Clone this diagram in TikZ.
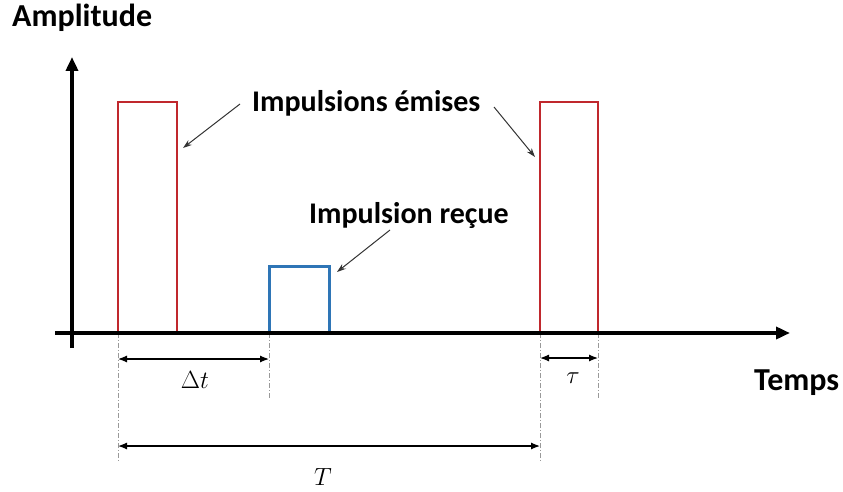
\documentclass[tikz,border=0pt]{standalone}
\usepackage{fontspec}
\setmainfont{Carlito}
\usetikzlibrary{arrows.meta}
\definecolor{pred}{HTML}{C0282D}
\definecolor{pblue}{HTML}{2E75B6}
\definecolor{annot}{HTML}{333333}
\begin{document}
\begin{tikzpicture}[x=1pt,y=-1pt,
  lbl/.style={font=\bfseries\fontsize{30}{34}\selectfont, inner sep=0pt, anchor=base west},
  biglbl/.style={lbl, font=\bfseries\fontsize{32}{36}\selectfont},
  mlbl/.style={font=\fontsize{24}{28}\selectfont, inner sep=0pt},
  axisline/.style={line width=4pt, -{Triangle[length=14pt,width=12pt]}},
  redpulse/.style={draw=pred, line width=2pt},
  bluepulse/.style={draw=pblue, line width=3pt},
  guide/.style={draw=gray!80, line width=0.7pt, dash pattern=on 5pt off 2pt on 1pt off 2pt},
  dim/.style={line width=1.2pt, {Latex[length=9pt,width=7pt]}-{Latex[length=9pt,width=7pt]}},
  pointer/.style={draw=annot, line width=1pt, -{Stealth[length=9pt,width=6pt]}}]
\useasboundingbox (0,0) rectangle (843,492);

% coordinates
\coordinate (o) at (72,333);
\coordinate (xs) at (55,333);
\coordinate (xe) at (790,333);
\coordinate (ys) at (72,348);
\coordinate (ye) at (72,57);

\coordinate (r1bl) at (118,333);
\coordinate (r1tr) at (177,102);
\coordinate (r1br) at (177,333);
\coordinate (bbl) at (269,333);
\coordinate (btr) at (329,266);
\coordinate (bbr) at (329,333);
\coordinate (r2bl) at (540,333);
\coordinate (r2tr) at (598,102);
\coordinate (r2br) at (598,333);

% guide lines
\coordinate (g1) at (118,462);
\coordinate (g2) at (269,398);
\coordinate (g3) at (540,462);
\coordinate (g4) at (598,398);
\draw[guide] (r1bl) -- (g1);
\draw[guide] (bbl) -- (g2);
\draw[guide] (r2bl) -- (g3);
\draw[guide] (r2br) -- (g4);

% pulses
\draw[redpulse] (r1bl) |- (r1tr) -- (r1br);
\draw[bluepulse] (bbl) |- (btr) -- (bbr);
\draw[redpulse] (r2bl) |- (r2tr) -- (r2br);

% axes
\draw[axisline] (xs) -- (xe);
\draw[axisline] (ys) -- (ye);

% dimension arrows
\coordinate (d1a) at (118,359);
\coordinate (d1b) at (269,359);
\coordinate (d2a) at (540,358);
\coordinate (d2b) at (598,358);
\coordinate (d3a) at (118,446);
\coordinate (d3b) at (540,446);
\draw[dim] (d1a) -- (d1b);
\draw[dim] (d2a) -- (d2b);
\draw[dim] (d3a) -- (d3b);
\node[mlbl] (dt) at (195,380) {$\Delta t$};
\node[mlbl] (tau) at (573,378) {$\tau$};
\node[mlbl] (T) at (323,477) {$T$};

% text labels
\node[biglbl] (amp) at (12,27) {Amplitude};
\node[biglbl] (temps) at (754,390) {Temps};
\node[lbl] (emises) at (252,112) {Impulsions émises};
\node[lbl] (recue) at (309,223) {Impulsion reçue};

% pointers
\coordinate (p1s) at (240,104);
\coordinate (p1e) at (183,148);
\coordinate (p2s) at (494,107);
\coordinate (p2e) at (535,157);
\coordinate (p3s) at (390,230);
\coordinate (p3e) at (337,272);
\draw[pointer] (p1s) -- (p1e);
\draw[pointer] (p2s) -- (p2e);
\draw[pointer] (p3s) -- (p3e);
\end{tikzpicture}
\end{document}
